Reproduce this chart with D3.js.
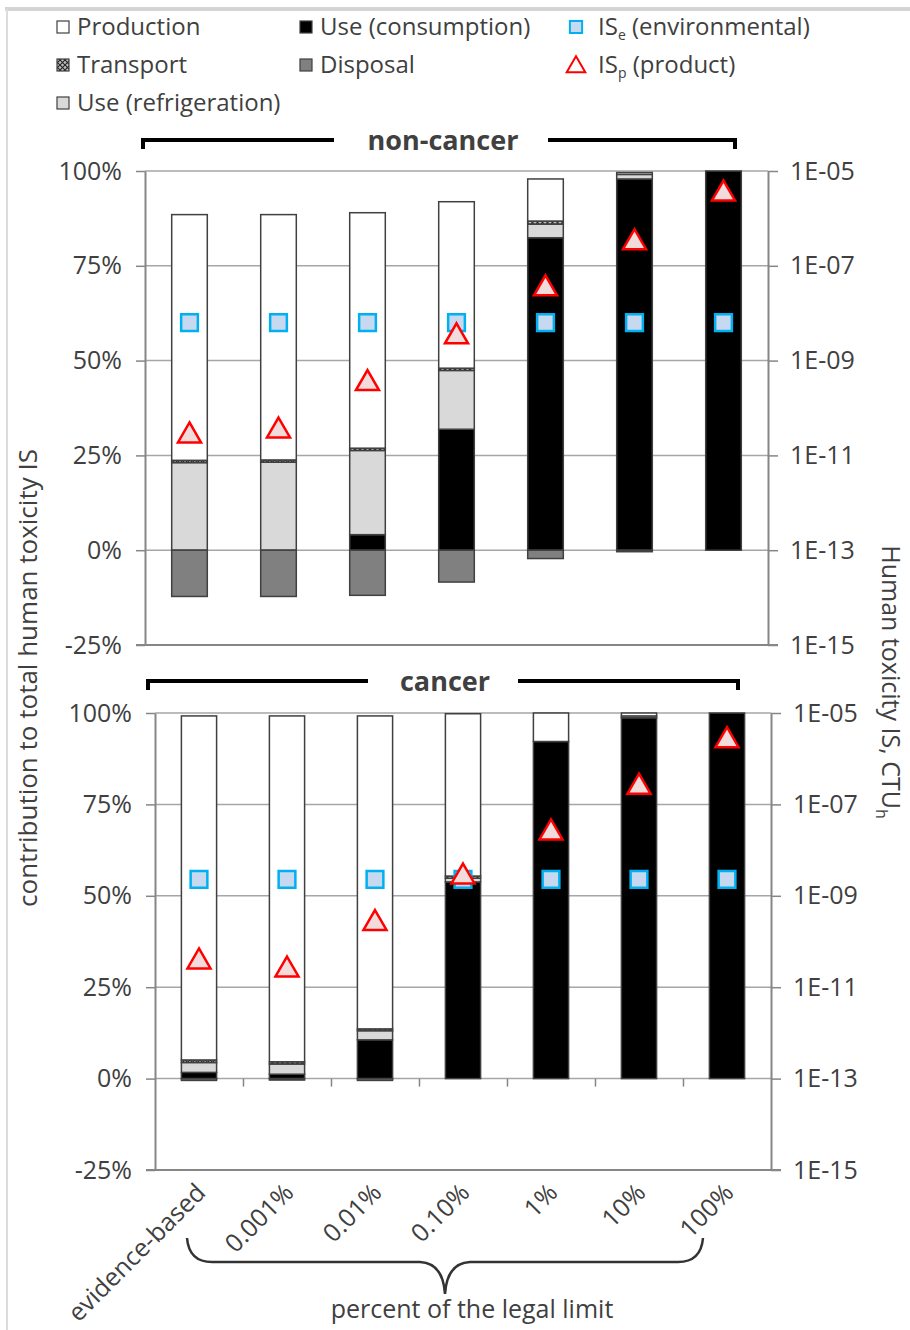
<!DOCTYPE html>
<html>
<head>
<meta charset="utf-8">
<script src="https://cdn.jsdelivr.net/npm/d3@7"></script>
<style>
  body { margin: 0; background: #fff; }
  text { font-family: "Open Sans", sans-serif; fill: #404040; }
</style>
</head>
<body>
<div id="chart"></div>
<script>
// Categories (share of the legal limit)
const categories = ["evidence-based", "0.001%", "0.01%", "0.10%", "1%", "10%", "100%"];

// Non-cancer contributions (% of total human toxicity IS)
const ncConsumption   = [0, 0, 4.1, 31.9, 82.4, 97.9, 100];
const ncRefrigeration = [23.1, 23.2, 22.2, 15.5, 3.6, 1.2, 0];
const ncTransport     = [0.6, 0.6, 0.6, 0.6, 0.8, 0, 0];
const ncProduction    = [64.8, 64.7, 62.1, 43.9, 11.1, 0.5, 0];
const ncDisposal      = [-12.2, -12.2, -11.9, -8.4, -2.2, -0.4, 0];
// Non-cancer IS values, CTUh
const ncISe = [6.3e-9, 6.3e-9, 6.3e-9, 6.3e-9, 6.3e-9, 6.3e-9, 6.3e-9];
const ncISp = [2.6e-11, 3.3e-11, 3.3e-10, 3.2e-9, 3.3e-8, 3.1e-7, 3.3e-6];

// Cancer contributions
const cConsumption   = [1.7, 1.2, 10.6, 53.8, 92.2, 98.7, 100];
const cRefrigeration = [2.7, 2.8, 2.5, 1.0, 0, 0.5, 0];
const cTransport     = [0.7, 0.6, 0.5, 0.6, 0, 0, 0];
const cProduction    = [94.1, 94.6, 85.6, 44.4, 7.8, 0.8, 0];
const cDisposal      = [-0.5, -0.4, -0.5, 0, 0, 0, 0];
// Cancer IS values, CTUh
const cISe = [2.3e-9, 2.3e-9, 2.3e-9, 2.3e-9, 2.3e-9, 2.3e-9, 2.3e-9];
const cISp = [3.6e-11, 2.4e-11, 2.5e-10, 2.6e-9, 2.4e-8, 2.4e-7, 2.5e-6];

// Axis ticks
const pctTicks = [-25, 0, 25, 50, 75, 100];
const logTicks = [1e-15, 1e-13, 1e-11, 1e-9, 1e-7, 1e-5];

const keys = ["consumption", "refrigeration", "transport", "production", "disposal"];
const fills = {
  production: "#ffffff",
  consumption: "#000000",
  refrigeration: "#d9d9d9",
  disposal: "#808080",
  transport: "url(#hatch)"
};

const width = 910, height = 1330;

const svg = d3.select("#chart")
  .append("svg")
  .attr("width", width)
  .attr("height", height);

// crosshatch for transport
const defs = svg.append("defs");
const hatch = defs.append("pattern")
  .attr("id", "hatch")
  .attr("patternUnits", "userSpaceOnUse")
  .attr("width", 5)
  .attr("height", 5);
hatch.append("rect").attr("width", 5).attr("height", 5).attr("fill", "#bfbfbf");
hatch.append("path").attr("d", "M0,0L5,5M5,0L0,5").attr("stroke", "#262626").attr("stroke-width", 1.2);

// light frame of the original figure
svg.append("line").attr("x1", 5).attr("x2", width).attr("y1", 9).attr("y2", 9)
  .attr("stroke", "#d4d4d4").attr("stroke-width", 4);
svg.append("line").attr("x1", 7).attr("x2", 7).attr("y1", 9).attr("y2", height)
  .attr("stroke", "#dcdcdc").attr("stroke-width", 2);

const panels = [
  {
    title: "non-cancer",
    consumption: ncConsumption, refrigeration: ncRefrigeration, transport: ncTransport,
    production: ncProduction, disposal: ncDisposal, ise: ncISe, isp: ncISp,
    x0: 145, x1: 768, yTop: 171, yBot: 645,
    bracket: { l: 143, r: 735, y: 140, gapL: 334, gapR: 548, ty: 149 },
    xTicks: false
  },
  {
    title: "cancer",
    consumption: cConsumption, refrigeration: cRefrigeration, transport: cTransport,
    production: cProduction, disposal: cDisposal, ise: cISe, isp: cISp,
    x0: 155, x1: 771, yTop: 713, yBot: 1170,
    bracket: { l: 148, r: 738, y: 681, gapL: 368, gapR: 518, ty: 690 },
    xTicks: true
  }
];

const triangle = d3.symbol(d3.symbolTriangle, 230);
const square = d3.symbol(d3.symbolSquare, 280);

panels.forEach(p => {
  const g = svg.append("g");

  const x = d3.scaleBand()
    .domain(categories)
    .range([p.x0, p.x1])
    .paddingInner(0.6)
    .paddingOuter(0.3);
  const y = d3.scaleLinear().domain([-25, 100]).range([p.yBot, p.yTop]);
  const yLog = d3.scaleLog().domain([1e-15, 1e-5]).range([p.yBot, p.yTop]);

  // gridlines
  g.append("g")
    .selectAll("line")
    .data([0, 25, 50, 75, 100])
    .join("line")
    .attr("x1", p.x0).attr("x2", p.x1)
    .attr("y1", d => y(d)).attr("y2", d => y(d))
    .attr("stroke", "#a6a6a6")
    .attr("stroke-width", 1.5);

  // bottom frame line
  g.append("line")
    .attr("x1", p.x0 - 9).attr("x2", p.x1 + 10)
    .attr("y1", y(-25)).attr("y2", y(-25))
    .attr("stroke", "#868686").attr("stroke-width", 2);

  // stacked bars
  const rows = categories.map((c, i) => ({
    cat: c,
    consumption: p.consumption[i],
    refrigeration: p.refrigeration[i],
    transport: p.transport[i],
    production: p.production[i],
    disposal: p.disposal[i]
  }));
  const series = d3.stack().keys(keys).offset(d3.stackOffsetDiverging)(rows);

  g.append("g")
    .selectAll("g")
    .data(series)
    .join("g")
    .attr("fill", d => fills[d.key])
    .selectAll("rect")
    .data(d => d.filter(s => s[1] !== s[0]))
    .join("rect")
    .attr("x", d => x(d.data.cat))
    .attr("width", x.bandwidth())
    .attr("y", d => y(Math.max(d[0], d[1])))
    .attr("height", d => Math.abs(y(d[0]) - y(d[1])))
    .attr("stroke", "#404040")
    .attr("stroke-width", 1.5);

  // category ticks on the 0% line (cancer panel)
  if (p.xTicks) {
    const xi = d3.scaleLinear().domain([0, categories.length]).range([p.x0, p.x1]);
    const xAxis = g.append("g")
      .attr("transform", `translate(0,${y(0)})`)
      .call(d3.axisBottom(xi).tickValues(d3.range(1, categories.length)).tickSize(8).tickFormat(""));
    xAxis.select(".domain").remove();
    xAxis.selectAll("line").attr("stroke", "#868686").attr("stroke-width", 1.5);
  }

  // left axis
  const left = g.append("g")
    .attr("transform", `translate(${p.x0},0)`)
    .call(d3.axisLeft(y).tickValues(pctTicks).tickSize(9).tickSizeOuter(0).tickPadding(14)
      .tickFormat(d => d + "%"));
  left.select(".domain").attr("stroke", "#868686").attr("stroke-width", 2);
  left.selectAll("line").attr("stroke", "#868686").attr("stroke-width", 1.5);
  left.selectAll("text").style("font-size", "25px").style("font-family", "Open Sans").attr("fill", "#404040");

  // right axis (log)
  const right = g.append("g")
    .attr("transform", `translate(${p.x1},0)`)
    .call(d3.axisRight(yLog).tickValues(logTicks).tickSize(10).tickSizeOuter(0).tickPadding(12)
      .tickFormat(d => "1E-" + String(Math.round(-Math.log10(d))).padStart(2, "0")));
  right.select(".domain").attr("stroke", "#868686").attr("stroke-width", 2);
  right.selectAll("line").attr("stroke", "#868686").attr("stroke-width", 1.5);
  right.selectAll("text").style("font-size", "25px").style("font-family", "Open Sans").attr("fill", "#404040");

  // IS markers
  g.append("g")
    .selectAll("path")
    .data(p.ise)
    .join("path")
    .attr("d", square)
    .attr("transform", (d, i) => `translate(${x(categories[i]) + x.bandwidth() / 2},${yLog(d)})`)
    .attr("fill", "#c6d9f1")
    .attr("stroke", "#00b0f0")
    .attr("stroke-width", 2.5);

  g.append("g")
    .selectAll("path")
    .data(p.isp)
    .join("path")
    .attr("d", triangle)
    .attr("transform", (d, i) => `translate(${x(categories[i]) + x.bandwidth() / 2},${yLog(d)})`)
    .attr("fill", "#f2dcdb")
    .attr("stroke", "#ff0000")
    .attr("stroke-width", 2.5);

  // bracket header
  const b = p.bracket;
  const br = g.append("g").attr("fill", "none").attr("stroke", "#000").attr("stroke-width", 4);
  br.append("path").attr("d", `M${b.l},${b.ty}V${b.y}H${b.gapL}`);
  br.append("path").attr("d", `M${b.gapR},${b.y}H${b.r}V${b.ty}`);
  g.append("text")
    .attr("x", (b.gapL + b.gapR) / 2 + 2)
    .attr("y", b.y + 10)
    .attr("text-anchor", "middle")
    .style("font-size", "27px")
    .style("font-weight", "bold")
    .attr("fill", "#111")
    .text(p.title);

  // category labels (bottom panel only)
  if (p.xTicks) {
    g.append("g")
      .selectAll("text")
      .data(categories)
      .join("text")
      .attr("transform", d => `translate(${x(d) + x.bandwidth() / 2 + 2},${p.yBot + 18}) rotate(-45)`)
      .attr("text-anchor", "end")
      .attr("dy", "0.35em")
      .style("font-size", "25px")
      .text(d => d);
  }
});

// brace under the legal-limit categories
const bp = d3.path();
bp.moveTo(187, 1238);
bp.quadraticCurveTo(189, 1262, 212, 1262);
bp.lineTo(420, 1262);
bp.quadraticCurveTo(443, 1263, 445, 1294);
bp.quadraticCurveTo(447, 1263, 470, 1262);
bp.lineTo(678, 1262);
bp.quadraticCurveTo(701, 1262, 703, 1238);
svg.append("path")
  .attr("d", bp.toString())
  .attr("fill", "none")
  .attr("stroke", "#333")
  .attr("stroke-width", 2.5);

svg.append("text")
  .attr("x", 472).attr("y", 1318)
  .attr("text-anchor", "middle")
  .style("font-size", "25px")
  .text("percent of the legal limit");

// axis titles
svg.append("text")
  .attr("transform", "translate(37,678) rotate(-90)")
  .attr("text-anchor", "middle")
  .style("font-size", "26px")
  .text("contribution to total human toxicity IS");

const rt = svg.append("text")
  .attr("transform", "translate(882,682) rotate(90)")
  .attr("text-anchor", "middle")
  .style("font-size", "25px");
rt.append("tspan").text("Human toxicity IS, CTU");
rt.append("tspan").attr("dy", 6).style("font-size", "16px").text("h");

// legend
const legendItems = [
  { col: 0, row: 0, type: "box", fill: fills.production, label: "Production" },
  { col: 0, row: 1, type: "box", fill: fills.transport, label: "Transport" },
  { col: 0, row: 2, type: "box", fill: fills.refrigeration, label: "Use (refrigeration)" },
  { col: 1, row: 0, type: "box", fill: fills.consumption, label: "Use (consumption)" },
  { col: 1, row: 1, type: "box", fill: fills.disposal, label: "Disposal" },
  { col: 2, row: 0, type: "square", label: "IS", sub: "e", rest: " (environmental)" },
  { col: 2, row: 1, type: "triangle", label: "IS", sub: "p", rest: " (product)" }
];
const colX = [57, 300, 568];
const rowY = [27, 65, 103];

const legend = svg.append("g").attr("class", "legend");
legendItems.forEach(it => {
  const lx = colX[it.col], ly = rowY[it.row];
  if (it.type === "box") {
    legend.append("rect")
      .attr("x", lx).attr("y", ly - 6)
      .attr("width", 12).attr("height", 12)
      .attr("fill", it.fill)
      .attr("stroke", "#404040").attr("stroke-width", 1.2);
    legend.append("text")
      .attr("x", lx + 20).attr("y", ly).attr("dy", "0.35em")
      .style("font-size", "24px")
      .text(it.label);
  } else {
    legend.append("path")
      .attr("d", it.type === "square" ? d3.symbol(d3.symbolSquare, 150)() : d3.symbol(d3.symbolTriangle, 150)())
      .attr("transform", `translate(${lx + 8},${ly + (it.type === "triangle" ? 2 : 0)})`)
      .attr("fill", it.type === "square" ? "#c6d9f1" : "#ffffff")
      .attr("stroke", it.type === "square" ? "#00b0f0" : "#ff0000")
      .attr("stroke-width", 2);
    const t = legend.append("text")
      .attr("x", lx + 30).attr("y", ly).attr("dy", "0.35em")
      .style("font-size", "24px");
    t.append("tspan").text(it.label);
    t.append("tspan").attr("dy", 5).style("font-size", "14px").text(it.sub);
    t.append("tspan").attr("dy", -5).text(it.rest);
  }
});
</script>
</body>
</html>
